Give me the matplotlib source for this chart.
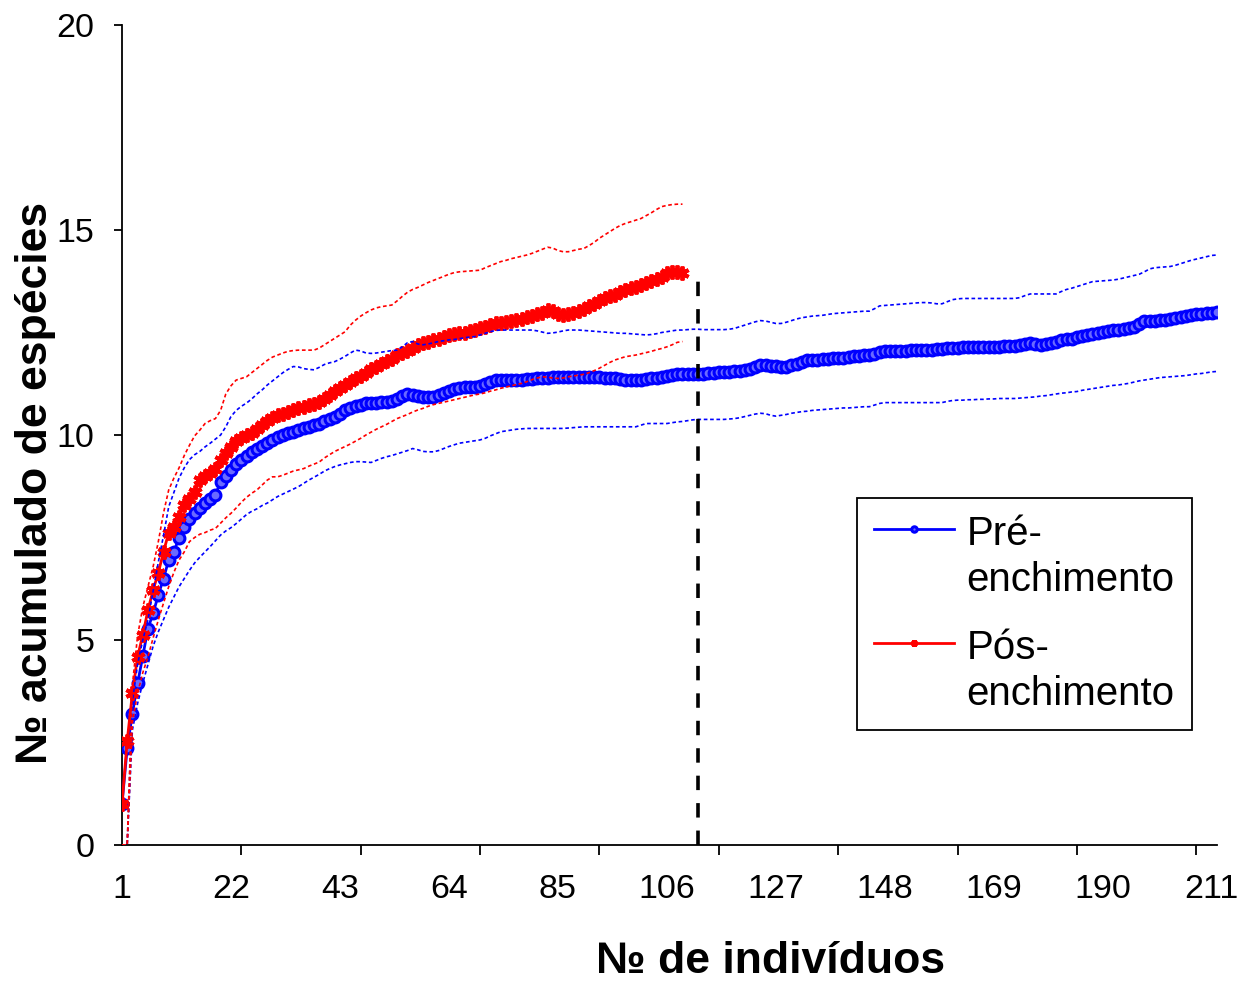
import matplotlib
matplotlib.use("Agg")
import matplotlib.pyplot as plt
import numpy as np

plt.rcParams['font.family'] = ['Liberation Sans', 'DejaVu Sans']

# ---------------- data ----------------
pre_mean = [
    1.0, 2.36, 3.2, 3.94, 4.6, 5.28, 5.65, 6.1, 6.5, 6.95,
    7.15, 7.5, 7.76, 7.95, 8.1, 8.22, 8.34, 8.45, 8.54, 8.86,
    9.0, 9.15, 9.3, 9.4, 9.5, 9.58, 9.66, 9.74, 9.8, 9.88,
    9.95, 10.0, 10.04, 10.08, 10.12, 10.16, 10.2, 10.25, 10.28, 10.33,
    10.4, 10.45, 10.52, 10.6, 10.65, 10.7, 10.74, 10.77, 10.77, 10.78,
    10.8, 10.81, 10.83, 10.88, 10.95, 11.0, 10.98, 10.94, 10.93, 10.92,
    10.93, 10.97, 11.02, 11.08, 11.12, 11.15, 11.16, 11.17, 11.18, 11.2,
    11.25, 11.3, 11.34, 11.35, 11.35, 11.34, 11.34, 11.35, 11.36, 11.37,
    11.38, 11.39, 11.4, 11.41, 11.42, 11.42, 11.42, 11.42, 11.42, 11.42,
    11.42, 11.42, 11.41, 11.4, 11.39, 11.38, 11.37, 11.35, 11.34, 11.33,
    11.34, 11.36, 11.38, 11.4, 11.42, 11.44, 11.46, 11.48, 11.5, 11.5,
    11.49, 11.49, 11.5, 11.51, 11.52, 11.53, 11.53, 11.54, 11.55, 11.55,
    11.58, 11.62, 11.67, 11.71, 11.71, 11.69, 11.68, 11.67, 11.67, 11.7,
    11.74, 11.78, 11.82, 11.83, 11.84, 11.85, 11.86, 11.87, 11.87, 11.88,
    11.9, 11.92, 11.93, 11.94, 11.95, 11.98, 12.02, 12.05, 12.06, 12.06,
    12.06, 12.06, 12.07, 12.07, 12.07, 12.07, 12.08, 12.09, 12.1, 12.11,
    12.12, 12.13, 12.14, 12.14, 12.14, 12.15, 12.15, 12.15, 12.15, 12.15,
    12.16, 12.16, 12.17, 12.2, 12.23, 12.25, 12.22, 12.2, 12.22, 12.25,
    12.28, 12.31, 12.33, 12.35, 12.38, 12.41, 12.44, 12.47, 12.49, 12.51,
    12.53, 12.55, 12.57, 12.59, 12.61, 12.63, 12.7, 12.77, 12.79, 12.79,
    12.8, 12.81, 12.82, 12.85, 12.88, 12.9, 12.92, 12.94, 12.96, 12.97,
    12.98, 12.99,
]
pre_upper = [
    0, 0, 3.5, 4.4, 5.0, 5.49, 6.2, 6.9, 7.55, 8.25,
    8.6, 8.95, 9.2, 9.4, 9.52, 9.6, 9.71, 9.8, 9.9, 10.0,
    10.2, 10.45, 10.6, 10.7, 10.78, 10.88, 11.0, 11.1, 11.22, 11.32,
    11.42, 11.52, 11.6, 11.67, 11.66, 11.62, 11.6, 11.59, 11.65, 11.72,
    11.76, 11.79, 11.85, 11.92, 12.0, 12.07, 12.05, 12.0, 11.99, 12.0,
    12.02, 12.04, 12.06, 12.07, 12.15, 12.25, 12.28, 12.22, 12.2, 12.22,
    12.25, 12.28, 12.3, 12.32, 12.33, 12.35, 12.37, 12.39, 12.4, 12.44,
    12.48, 12.52, 12.55, 12.56, 12.56, 12.56, 12.56, 12.56, 12.56, 12.56,
    12.54, 12.51, 12.48, 12.49, 12.51, 12.54, 12.56, 12.56, 12.56, 12.55,
    12.54, 12.53, 12.52, 12.51, 12.5, 12.49, 12.48, 12.48, 12.47, 12.46,
    12.45, 12.44, 12.45, 12.47, 12.5, 12.52, 12.54, 12.56, 12.56, 12.57,
    12.58, 12.58, 12.57, 12.57, 12.57, 12.57, 12.57, 12.58, 12.6, 12.64,
    12.68, 12.72, 12.76, 12.79, 12.78, 12.75, 12.72, 12.72, 12.75, 12.79,
    12.83, 12.86, 12.88, 12.9, 12.91, 12.92, 12.94, 12.96, 12.97, 12.98,
    12.99, 13.0, 13.01, 13.02, 13.02, 13.08, 13.15, 13.16, 13.17, 13.18,
    13.19, 13.2, 13.21, 13.22, 13.23, 13.23, 13.22, 13.2, 13.2, 13.25,
    13.3, 13.32, 13.33, 13.33, 13.33, 13.33, 13.33, 13.33, 13.33, 13.33,
    13.33, 13.33, 13.33, 13.35, 13.4, 13.44, 13.44, 13.44, 13.44, 13.44,
    13.44, 13.5, 13.55, 13.58, 13.62, 13.66, 13.7, 13.74, 13.75, 13.76,
    13.77, 13.78, 13.8, 13.83, 13.86, 13.89, 13.92, 13.98, 14.05, 14.08,
    14.09, 14.1, 14.11, 14.14, 14.18, 14.22, 14.26, 14.29, 14.32, 14.35,
    14.38, 14.39,
]
pre_lower = [
    0, 0, 2.8, 3.45, 3.95, 4.4, 4.85, 5.2, 5.5, 5.8,
    6.05, 6.3, 6.5, 6.7, 6.88, 7.02, 7.15, 7.28, 7.42, 7.56,
    7.66, 7.74, 7.84, 7.95, 8.06, 8.14, 8.2, 8.28, 8.34, 8.42,
    8.5, 8.56, 8.62, 8.68, 8.74, 8.82, 8.9, 8.97, 9.04, 9.12,
    9.18, 9.23, 9.27, 9.3, 9.33, 9.35, 9.35, 9.34, 9.33, 9.38,
    9.43, 9.47, 9.5, 9.54, 9.58, 9.62, 9.67, 9.64, 9.6, 9.59,
    9.59, 9.62, 9.67, 9.72, 9.76, 9.8, 9.82, 9.84, 9.86, 9.88,
    9.92, 9.98, 10.03, 10.08, 10.1, 10.12, 10.14, 10.15, 10.16, 10.16,
    10.16, 10.16, 10.16, 10.16, 10.16, 10.16, 10.17, 10.18, 10.19, 10.2,
    10.2, 10.2, 10.2, 10.2, 10.2, 10.2, 10.2, 10.2, 10.2, 10.2,
    10.24, 10.28, 10.28, 10.28, 10.28, 10.28, 10.3, 10.32, 10.33, 10.35,
    10.37, 10.38, 10.38, 10.38, 10.38, 10.38, 10.38, 10.39, 10.4, 10.42,
    10.45, 10.48, 10.51, 10.53, 10.52, 10.48, 10.46, 10.48, 10.5, 10.53,
    10.55, 10.57, 10.58, 10.6, 10.61, 10.62, 10.63, 10.64, 10.65, 10.66,
    10.66, 10.67, 10.68, 10.69, 10.69, 10.73, 10.77, 10.79, 10.79, 10.79,
    10.79, 10.79, 10.79, 10.79, 10.79, 10.79, 10.79, 10.79, 10.79, 10.82,
    10.84, 10.85, 10.85, 10.86, 10.86, 10.87, 10.87, 10.88, 10.88, 10.89,
    10.89, 10.89, 10.89, 10.9, 10.91, 10.92, 10.93, 10.95, 10.96, 10.98,
    11.0, 11.02, 11.03, 11.05, 11.06, 11.09, 11.11, 11.13, 11.15, 11.17,
    11.19, 11.21, 11.22, 11.24, 11.26, 11.29, 11.32, 11.34, 11.36, 11.38,
    11.4, 11.41, 11.42, 11.43, 11.44, 11.45, 11.47, 11.49, 11.5, 11.52,
    11.54, 11.55,
]

pos_mean = [
    1.0, 2.54, 3.7, 4.59, 5.12, 5.73, 6.22, 6.64, 7.15, 7.62,
    7.76, 8.0, 8.3, 8.45, 8.62, 8.9, 9.0, 9.08, 9.18, 9.39,
    9.55, 9.7, 9.85, 9.92, 10.0, 10.06, 10.15, 10.25, 10.35, 10.42,
    10.48, 10.52, 10.57, 10.62, 10.65, 10.68, 10.72, 10.76, 10.8, 10.88,
    10.98, 11.08, 11.15, 11.22, 11.3, 11.38, 11.44, 11.52, 11.6, 11.67,
    11.72, 11.8, 11.86, 11.94, 12.0, 12.05, 12.12, 12.2, 12.24, 12.27,
    12.31, 12.35, 12.4, 12.44, 12.46, 12.48, 12.5, 12.53, 12.56, 12.6,
    12.64, 12.68, 12.72, 12.74, 12.76, 12.78, 12.8, 12.83, 12.87, 12.91,
    12.94, 12.98, 13.04, 13.02, 12.96, 12.93, 12.94, 12.97, 13.02, 13.08,
    13.15, 13.2, 13.26, 13.33, 13.38, 13.42, 13.48, 13.53, 13.58, 13.62,
    13.66, 13.7, 13.75, 13.8, 13.86, 13.94, 13.98, 13.97, 13.96,
]
pos_upper = [
    0, 0, 3.9, 5.1, 5.8, 6.3, 6.79, 7.4, 8.1, 8.66,
    8.95, 9.2, 9.5, 9.75, 9.98, 10.12, 10.28, 10.35, 10.4, 10.6,
    11.0, 11.2, 11.34, 11.38, 11.42, 11.52, 11.62, 11.72, 11.82, 11.9,
    11.95, 12.0, 12.04, 12.06, 12.07, 12.07, 12.07, 12.07, 12.12, 12.2,
    12.28, 12.36, 12.44, 12.52, 12.68, 12.8, 12.9, 12.98, 13.05, 13.1,
    13.13, 13.15, 13.17, 13.27, 13.38, 13.48, 13.55, 13.6, 13.66, 13.72,
    13.77, 13.82, 13.87, 13.92, 13.96, 13.98, 13.99, 14.0, 14.01, 14.02,
    14.08, 14.13, 14.18, 14.23, 14.26, 14.3, 14.33, 14.36, 14.39, 14.43,
    14.48, 14.53, 14.58, 14.56, 14.5, 14.47, 14.47, 14.5, 14.53, 14.55,
    14.62, 14.7, 14.8, 14.88, 14.96, 15.04, 15.11, 15.16, 15.2, 15.24,
    15.28, 15.35, 15.42, 15.5, 15.57, 15.6, 15.62, 15.63, 15.63,
]
pos_lower = [
    0, 0, 3.0, 3.7, 4.2, 4.59, 5.05, 5.49, 5.9, 6.3,
    6.65, 6.95, 7.15, 7.4, 7.5, 7.58, 7.62, 7.68, 7.72, 7.85,
    7.98, 8.09, 8.22, 8.36, 8.48, 8.58, 8.66, 8.78, 8.9, 8.98,
    8.98, 9.02, 9.07, 9.12, 9.15, 9.18, 9.24, 9.29, 9.34, 9.44,
    9.52, 9.6, 9.66, 9.72, 9.78, 9.85, 9.92, 10.0, 10.07, 10.14,
    10.2, 10.26, 10.33, 10.4, 10.45, 10.5, 10.56, 10.61, 10.65, 10.7,
    10.74, 10.77, 10.8, 10.83, 10.86, 10.89, 10.92, 10.95, 10.98, 11.0,
    11.03, 11.07, 11.1, 11.14, 11.17, 11.2, 11.23, 11.26, 11.3, 11.35,
    11.39, 11.42, 11.41, 11.39, 11.38, 11.39, 11.42, 11.44, 11.46, 11.48,
    11.52, 11.57, 11.63, 11.7, 11.77, 11.83, 11.87, 11.91, 11.93, 11.95,
    11.98, 12.01, 12.04, 12.08, 12.11, 12.15, 12.2, 12.26, 12.28,
]

x_labels = [1, 22, 43, 64, 85, 106, 127, 148, 169, 190, 211]
x_marks = [1, 24, 47, 70, 93, 116, 139, 162, 185, 208]
y_ticks = [0, 5, 10, 15, 20]
cutoff_x = 112
cutoff_top = 14

series_names = ["Pré-\nenchimento", "Pós-\nenchimento"]

# ---------------- figure ----------------
fig = plt.figure(figsize=(12.45, 9.82), dpi=100)
ax = fig.add_axes([122 / 1245, 1 - 845 / 982, (1217 - 122) / 1245, (845 - 25) / 982])

xb = np.arange(1, len(pre_mean) + 1)
xr = np.arange(1, len(pos_mean) + 1)

blue = '#0000FF'
red = '#FF0000'

ax.plot(xb, pre_mean, color=blue, lw=2.0, marker='o', ms=7.8,
        mfc='#6a6aff', mec=blue, mew=2.2, label=series_names[0], zorder=3)
ax.plot(xr, pos_mean, color=red, lw=2.0, marker=(6, 2, 0), ms=10,
        mec=red, mew=2.8, label=series_names[1], zorder=4)

dash = (0, (2.2, 1.6))
ax.plot(xb, pre_upper, color=blue, lw=1.2, ls=dash, zorder=5)
ax.plot(xb, pre_lower, color=blue, lw=1.2, ls=dash, zorder=5)
ax.plot(xr, pos_upper, color=red, lw=1.2, ls=dash, zorder=6)
ax.plot(xr, pos_lower, color=red, lw=1.2, ls=dash, zorder=6)

ax.plot([cutoff_x, cutoff_x], [0, cutoff_top], color='black', lw=2.6,
        ls=(0, (4.0, 3.6)), zorder=7)

ax.set_xlim(1, len(pre_mean))
ax.set_ylim(0, 20)

for s in ['top', 'right']:
    ax.spines[s].set_visible(False)
for s in ['left', 'bottom']:
    ax.spines[s].set_linewidth(1.3)

ax.set_yticks(y_ticks)
ax.set_yticklabels([str(v) for v in y_ticks])
ax.tick_params(axis='y', direction='out', length=6, width=1.3, pad=14,
               labelsize=24.5)

ax.set_xticks(x_labels)
ax.set_xticklabels([str(v) for v in x_labels])
ax.set_xticks(x_marks, minor=True)
ax.tick_params(axis='x', which='major', length=0, pad=21, labelsize=24.5)
ax.tick_params(axis='x', which='minor', direction='out', length=7, width=1.3)

ax.set_xlabel("№ de indivíduos", fontsize=32, fontweight='bold')
ax.xaxis.set_label_coords((771 - 122) / 1095, (845 - 962) / 820)
ax.xaxis.label.set_va('center')
ax.set_ylabel("№ acumulado de espécies", fontsize=32, fontweight='bold')
ax.yaxis.set_label_coords((35 - 122) / 1095, (845 - 483) / 820)
ax.yaxis.label.set_va('center')

leg_fs = 29
leg = ax.legend(loc='upper left',
                bbox_to_anchor=((857 - 122) / 1095, (845 - 498) / 820),
                fontsize=leg_fs, frameon=True, fancybox=False, shadow=False,
                edgecolor='black', framealpha=1, handlelength=2.0,
                handletextpad=0.3, labelspacing=0.75, borderpad=0.42,
                borderaxespad=0, markerscale=0.5)
leg.get_frame().set_linewidth(1.3)
for t in leg.get_texts():
    t.set_linespacing(1.27)
# align each handle with the first line of its two-line label
for h in leg.legend_handles:
    h.set_ydata(np.asarray(h.get_ydata(), dtype=float) + 0.72 * leg_fs)

fig.savefig('out.png', dpi=100)
